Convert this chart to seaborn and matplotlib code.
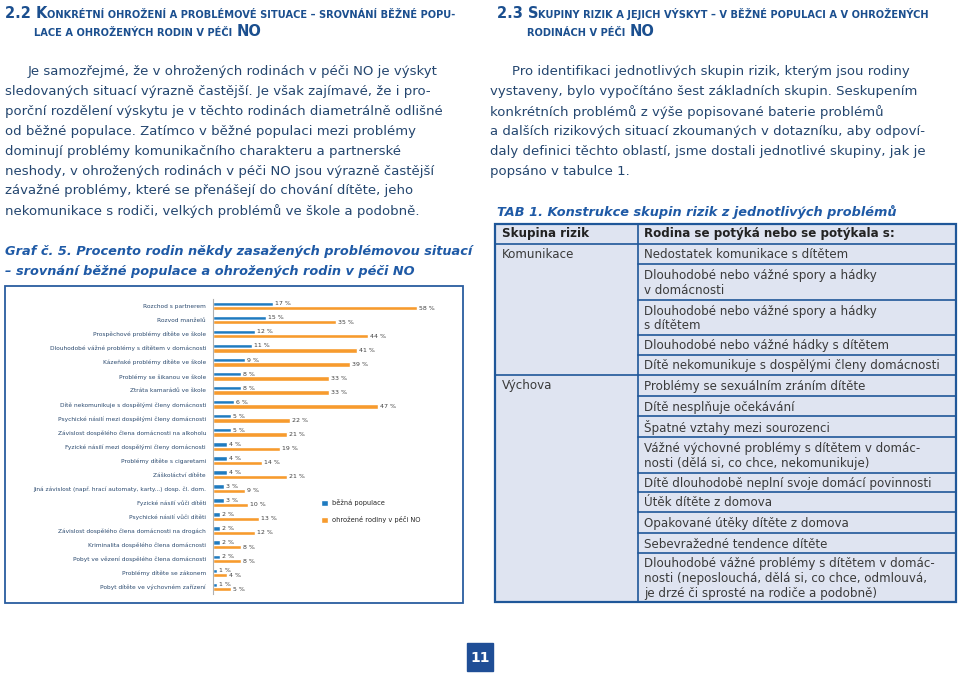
import pandas as pd
import matplotlib
matplotlib.use("Agg")
import matplotlib.pyplot as plt
import seaborn as sns
from matplotlib.patches import Rectangle

categories = [
    "Rozchod s partnerem",
    "Rozvod manželů",
    "Prospěchové problémy dítěte ve škole",
    "Dlouhodobé vážné problémy s dítětem v domácnosti",
    "Kázeňské problémy dítěte ve škole",
    "Problémy se šikanou ve škole",
    "Ztráta kamarádů ve škole",
    "Dítě nekomunikuje s dospělými členy domácnosti",
    "Psychické násilí mezi dospělými členy domácnosti",
    "Závislost dospělého člena domácnosti na alkoholu",
    "Fyzické násilí mezi dospělými členy domácnosti",
    "Problémy dítěte s cigaretami",
    "Záškoláctví dítěte",
    "Jiná závislost (např. hrací automaty, karty...) dosp. čl. dom.",
    "Fyzické násilí vůči dítěti",
    "Psychické násilí vůči dítěti",
    "Závislost dospělého člena domácnosti na drogách",
    "Kriminalita dospělého člena domácnosti",
    "Pobyt ve vězení dospělého člena domácnosti",
    "Problémy dítěte se zákonem",
    "Pobyt dítěte ve výchovném zařízení",
]
bezna = [17, 15, 12, 11, 9, 8, 8, 6, 5, 5, 4, 4, 4, 3, 3, 2, 2, 2, 2, 1, 1]
ohrozene = [58, 35, 44, 41, 39, 33, 33, 47, 22, 21, 19, 14, 21, 9, 10, 13, 12, 8, 8, 4, 5]
series_names = ["běžná populace", "ohrožené rodiny v péči NO"]

# table 1
tab_groups = ["Komunikace", "Výchova"]
tab_komunikace = [
    "Nedostatek komunikace s dítětem",
    "Dlouhodobé nebo vážné spory a hádky\nv domácnosti",
    "Dlouhodobé nebo vážné spory a hádky\ns dítětem",
    "Dlouhodobé nebo vážné hádky s dítětem",
    "Dítě nekomunikuje s dospělými členy domácnosti",
]
tab_vychova = [
    "Problémy se sexuálním zráním dítěte",
    "Dítě nesplňuje očekávání",
    "Špatné vztahy mezi sourozenci",
    "Vážné výchovné problémy s dítětem v domác-\nnosti (dělá si, co chce, nekomunikuje)",
    "Dítě dlouhodobě neplní svoje domácí povinnosti",
    "Útěk dítěte z domova",
    "Opakované útěky dítěte z domova",
    "Sebevražedné tendence dítěte",
    "Dlouhodobé vážné problémy s dítětem v domác-\nnosti (neposlouchá, dělá si, co chce, odmlouvá,\nje drzé či sprosté na rodiče a podobně)",
]

left_par = [
    "Je samozřejmé, že v ohrožených rodinách v péči NO je výskyt",
    "sledovaných situací výrazně častější. Je však zajímavé, že i pro-",
    "porční rozdělení výskytu je v těchto rodinách diametrálně odlišné",
    "od běžné populace. Zatímco v běžné populaci mezi problémy",
    "dominují problémy komunikačního charakteru a partnerské",
    "neshody, v ohrožených rodinách v péči NO jsou výrazně častější",
    "závažné problémy, které se přenášejí do chování dítěte, jeho",
    "nekomunikace s rodiči, velkých problémů ve škole a podobně.",
]
right_par = [
    "Pro identifikaci jednotlivých skupin rizik, kterým jsou rodiny",
    "vystaveny, bylo vypočítáno šest základních skupin. Seskupením",
    "konkrétních problémů z výše popisované baterie problémů",
    "a dalších rizikových situací zkoumaných v dotazníku, aby odpoví-",
    "daly definici těchto oblastí, jsme dostali jednotlivé skupiny, jak je",
    "popsáno v tabulce 1.",
]

BLUE = "#1f7bc0"
ORANGE = "#f79b2e"
HEAD = "#1b4f8f"
BODY = "#24466f"
DARK = "#3a3a3a"

df = pd.DataFrame({
    "problem": categories * 2,
    "procento": bezna + ohrozene,
    "skupina": [series_names[0]] * len(categories) + [series_names[1]] * len(categories),
})

sns.set_theme(style="white")
plt.rcParams['font.family'] = ['DejaVu Sans']

W, H = 960, 673
fig = plt.figure(figsize=(9.6, 6.73), dpi=100)
page = fig.add_axes([0, 0, 1, 1])
page.set_xlim(0, W)
page.set_ylim(H, 0)
page.axis('off')
renderer = fig.canvas.get_renderer()


def caps_line(x, y, parts):
    # fake small caps: draw pieces one after another
    for s, size, gap in parts:
        t = page.text(x, y, s, fontsize=size, fontweight='bold', color=HEAD, va='baseline')
        x += t.get_window_extent(renderer).width + gap


big, small = 10.5, 7.15
caps_line(5, 18.5, [("2.2 K", big, 0), ("ONKRÉTNÍ OHROŽENÍ A PROBLÉMOVÉ SITUACE – SROVNÁNÍ BĚŽNÉ POPU-", small, 0)])
caps_line(34, 36, [("LACE A OHROŽENÝCH RODIN V PÉČI", small, 4), ("NO", big, 0)])
caps_line(497, 18.5, [("2.3 S", big, 0), ("KUPINY RIZIK A JEJICH VÝSKYT – V BĚŽNÉ POPULACI A V OHROŽENÝCH", small, 0)])
caps_line(527, 36, [("RODINÁCH V PÉČI", small, 4), ("NO", big, 0)])

for i, line in enumerate(left_par):
    page.text(28 if i == 0 else 5, 72 + i * 19.8, line, fontsize=9.5, color=BODY, va='center')
for i, line in enumerate(right_par):
    page.text(512 if i == 0 else 490, 72 + i * 20, line, fontsize=9.5, color=BODY, va='center')

page.text(5, 252, "Graf č. 5. Procento rodin někdy zasažených problémovou situací",
          fontsize=9.3, fontweight='bold', fontstyle='italic', color="#1f5aa6", va='center')
page.text(5, 272, "– srovnání běžné populace a ohrožených rodin v péči NO",
          fontsize=9.3, fontweight='bold', fontstyle='italic', color="#1f5aa6", va='center')
page.text(497, 212, "TAB 1. Konstrukce skupin rizik z jednotlivých problémů",
          fontsize=9.3, fontweight='bold', fontstyle='italic', color="#1f5aa6", va='center')

# chart frame
page.add_patch(Rectangle((5, 286), 458, 317, fill=False, edgecolor="#2a5d9f", lw=1.3))

# table
TB = "#1f5799"
tx0, tx1, tcol = 495, 956, 638
rows = [224, 244, 264, 300, 335, 355, 375, 396, 416, 437, 473, 492, 512, 533, 553, 602]
page.add_patch(Rectangle((tx0, rows[0]), tx1 - tx0, rows[-1] - rows[0],
                         facecolor="#dfe4f1", edgecolor=TB, lw=1.6, zorder=1))
page.plot([tcol, tcol], [rows[0], rows[-1]], color=TB, lw=1.2, zorder=2)
for k, yy in enumerate(rows[1:-1], start=1):
    full = k in (1, 6)
    page.plot([tx0 if full else tcol, tx1], [yy, yy], color=TB, lw=1.2, zorder=2)
page.text(502, (rows[0] + rows[1]) / 2, "Skupina rizik", fontsize=8.6, fontweight='bold', color="#222222", va='center')
page.text(644, (rows[0] + rows[1]) / 2, "Rodina se potýká nebo se potýkala s:", fontsize=8.6,
          fontweight='bold', color="#222222", va='center')
page.text(502, (rows[1] + rows[2]) / 2, tab_groups[0], fontsize=8.6, color=DARK, va='center')
page.text(502, (rows[6] + rows[7]) / 2, tab_groups[1], fontsize=8.6, color=DARK, va='center')
for k, s in enumerate(tab_komunikace + tab_vychova, start=1):
    page.text(644, (rows[k] + rows[k + 1]) / 2 + 1, s, fontsize=8.6, color=DARK, va='center', linespacing=1.15)

# page number
page.add_patch(Rectangle((467, 643), 26, 28, color="#1f4e96"))
page.text(480, 657.5, "11", fontsize=10, color="white", ha='center', va='center', fontweight='bold')

# the bar chart itself
ax = fig.add_axes([213 / W, 1 - 594 / H, 246 / W, 295 / H])
sns.barplot(data=df, x="procento", y="problem", hue="skupina", palette=[BLUE, ORANGE],
            width=0.62, saturation=1, errorbar=None, ax=ax)
for cont, vals in zip(ax.containers, [bezna, ohrozene]):
    ax.bar_label(cont, labels=[f"{v} %" for v in vals], padding=1.5, fontsize=4.5, color="#404040")
ax.set_xlim(0, 70)
ax.set_xlabel("")
ax.set_ylabel("")
ax.set_xticks([])
ax.tick_params(axis='y', length=0, pad=5, labelsize=4.2, labelcolor="#2b4a6f")
for sp in ["top", "right", "bottom"]:
    ax.spines[sp].set_visible(False)
ax.spines["left"].set_color("#b0b0b0")
ax.spines["left"].set_linewidth(0.8)
ax.patch.set_alpha(0)
sns.move_legend(ax, "upper left", bbox_to_anchor=(315 / W, 1 - 493 / H), bbox_transform=fig.transFigure,
                frameon=False, title=None, fontsize=4.8, handlelength=1.1, handleheight=1.1,
                labelspacing=1.5, handletextpad=0.5)

fig.savefig("out.png", dpi=100)
